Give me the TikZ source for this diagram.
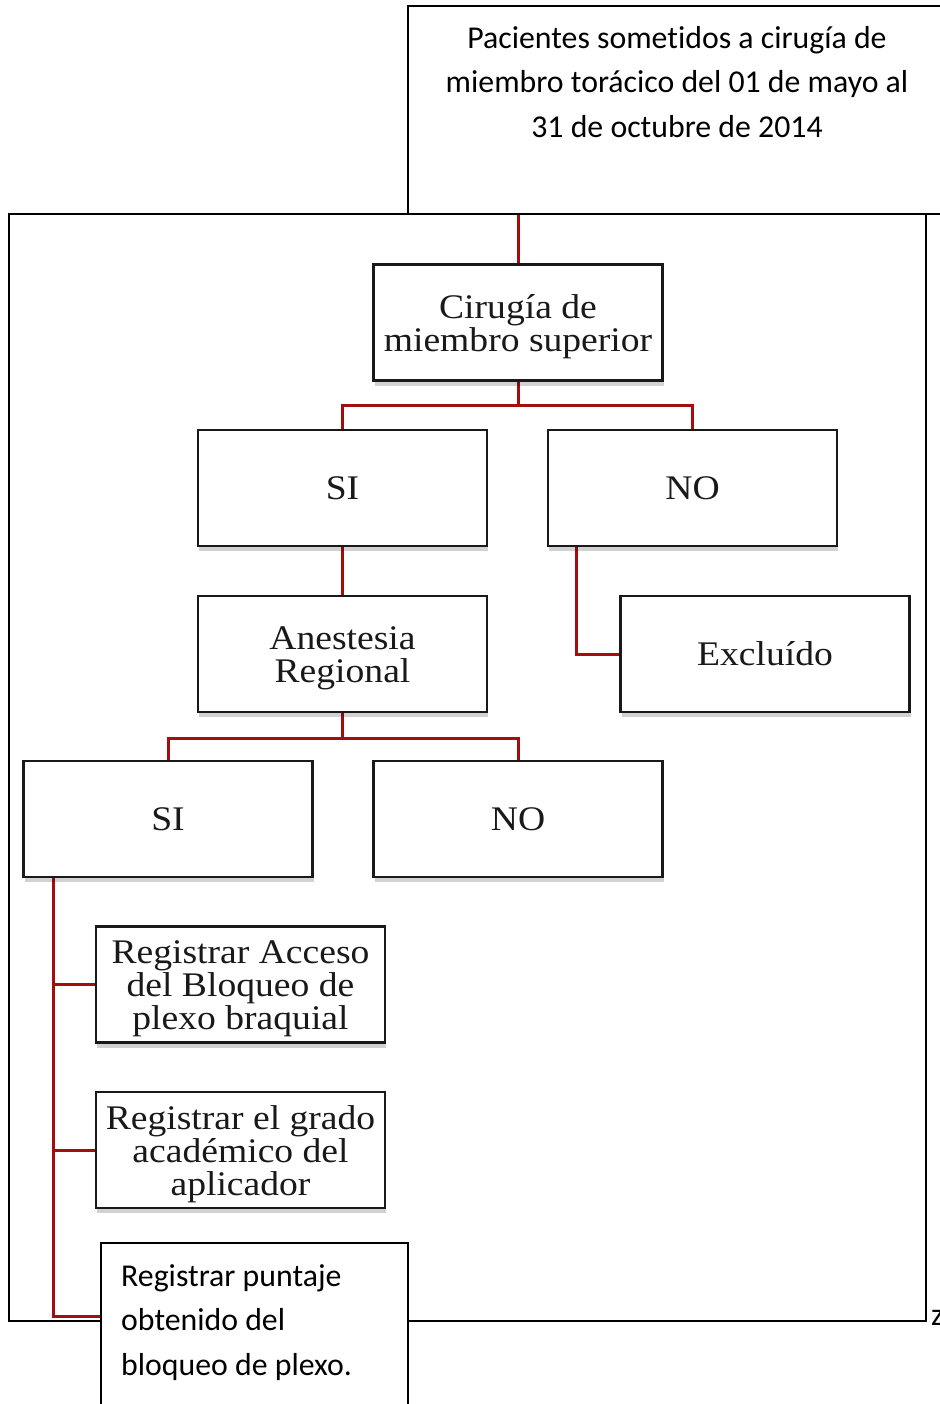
\documentclass[tikz,border=0pt]{standalone}
\usepackage{fontspec}
\setmainfont{Liberation Serif}
\newfontfamily\boxfont[FakeStretch=1.09]{Liberation Serif}
\newfontfamily\calfont[Ligatures=NoCommon]{Carlito}
\usetikzlibrary{shadows,backgrounds}
\definecolor{conred}{HTML}{A30D0D}
\newcommand\bx[1]{\raisebox{-4pt}[\height][\depth]{\vbox{\hsize=285pt\parindent=0pt\centering #1\par}}}
\begin{document}
\begin{tikzpicture}[x=1pt,y=-1pt,
  fbox/.style={draw=black!90, line width=2.8pt, fill=white, minimum width=289pt, minimum height=116pt, inner sep=0pt, align=center, font=\boxfont\fontsize{34.5}{33}\selectfont, text=black!90, drop shadow={shadow xshift=1pt, shadow yshift=-5pt, opacity=0.18, fill=black}},
  plainbox/.style={draw=black, line width=1.4pt, fill=white, inner sep=0pt},
  con/.style={draw=conred, line width=3pt},
  caltext/.style={inner sep=0pt, font=\calfont\fontsize{31.8}{44.5}\selectfont}
]
\useasboundingbox (0,0) rectangle (939,1404);
% outer frame
\draw[line width=1.4pt] (9,214) rectangle (926,1321);
\draw[line width=1.4pt] (926,214) -- (939,214);
% top box
\node[plainbox, minimum width=538pt, minimum height=208pt] (top) at (677,110) {};
\node[caltext, align=center] (toptxt) at (677,82) {Pacientes sometidos a cirugía de\\miembro torácico del 01 de mayo al\\31 de octubre de 2014};
% flow boxes
\node[fbox] (cir) at (518,322.5) {\bx{Cirugía de\\miembro superior}};
\node[fbox] (si1) at (342.5,488) {SI};
\node[fbox] (no1) at (692.5,488) {NO};
\node[fbox] (ane) at (342.5,654) {\bx{Anestesia\\Regional}};
\node[fbox] (exc) at (765,654) {Excluído};
\node[fbox] (si2) at (168,819) {SI};
\node[fbox] (no2) at (518,819) {NO};
\node[fbox] (reg1) at (240.5,984.5) {\bx{Registrar Acceso\\del Bloqueo de\\plexo braquial}};
\node[fbox] (reg2) at (240.5,1150) {\bx{Registrar el grado\\académico del\\aplicador}};
% bottom box
\node[plainbox, minimum width=307pt, minimum height=167pt] (bot) at (254.5,1326.5) {};
\node[caltext, anchor=north west, align=left] (bottxt) at (121,1264) {Registrar puntaje\\obtenido del\\bloqueo de plexo.};
% z
\node[caltext, anchor=base west] (zz) at (931,1325) {z};
% connectors
\begin{scope}[on background layer]
\coordinate (entry) at (518,214);
\draw[con] (entry) -- (cir.north);
\draw[con] (cir.south) -- ++(0,24) coordinate (j1);
\draw[con] (si1.north) |- (j1) -| (no1.north);
\draw[con] (si1.south) -- (ane.north);
\draw[con] ([xshift=30pt]no1.south west) |- (exc.west);
\draw[con] (ane.south) -- ++(0,25) coordinate (j2);
\draw[con] (si2.north) |- (j2) -| (no2.north);
\draw[con] ([xshift=31pt]si2.south west) coordinate (t0) |- ([yshift=10pt]bot.west);
\draw[con] (reg1.west) -- (reg1.west -| t0);
\draw[con] (reg2.west) -- (reg2.west -| t0);
\end{scope}
\end{tikzpicture}
\end{document}
